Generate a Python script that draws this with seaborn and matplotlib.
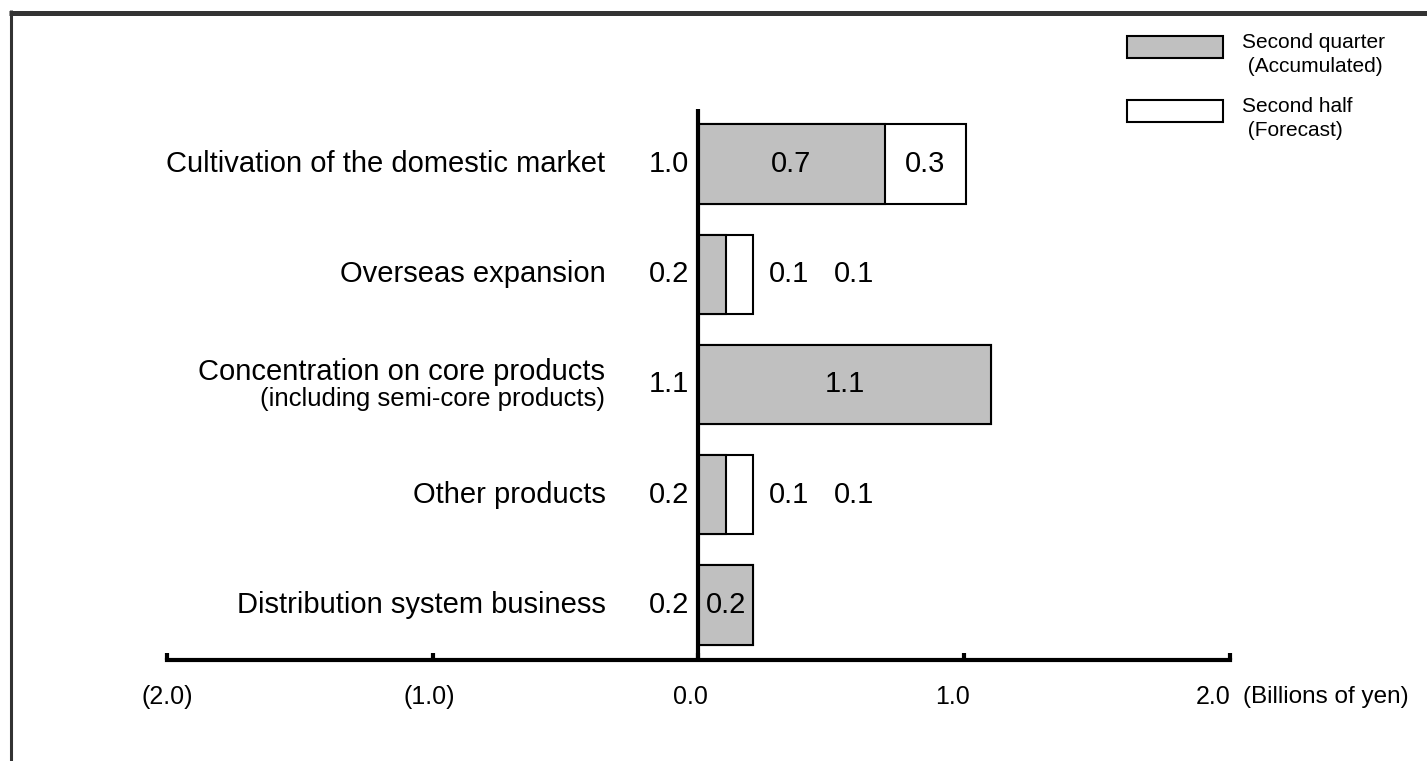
import pandas as pd
import numpy as np
import seaborn as sns
import matplotlib.pyplot as plt
from matplotlib.patches import Patch, Rectangle
from matplotlib.lines import Line2D
from matplotlib.legend_handler import HandlerPatch

# Dados do gráfico (bilhões de ienes)
categories = ["Cultivation of the domestic market", "Overseas expansion",
              "Concentration on core products", "Other products",
              "Distribution system business"]
sub_labels = ["", "", "(including semi-core products)", "", ""]
accumulated = [0.70, 0.105, 1.10, 0.105, 0.205]
forecast = [0.305, 0.10, 0.0, 0.10, 0.0]
total_labels = ["1.0", "0.2", "1.1", "0.2", "0.2"]
acc_labels = ["0.7", "0.1", "1.1", "0.1", "0.2"]
fc_labels = ["0.3", "0.1", "", "0.1", ""]
tick_values = [-2, -1, 0, 1, 2]
tick_labels = ["(2.0)", "(1.0)", "0.0", "1.0", "2.0"]
legend_labels = ["Second quarter\n (Accumulated)", "Second half\n (Forecast)"]

sns.set_style("white")
plt.rcParams["font.family"] = ["Liberation Sans", "DejaVu Sans"]
plt.rcParams["text.color"] = "black"
plt.rcParams["xtick.color"] = "black"
plt.rcParams["axes.edgecolor"] = "black"

df = pd.DataFrame({"category": categories, "accumulated": accumulated, "forecast": forecast})
df["total"] = df["accumulated"] + df["forecast"]

W, H = 1427, 761
fig = plt.figure(figsize=(W / 100, H / 100), dpi=100)
ax = fig.add_axes([34 / W, 1 - 660 / H, 1329 / W, 551 / H])

# Barras empilhadas: total (branco) por baixo, acumulado (cinza) por cima
sns.barplot(data=df, y="category", x="total", orient="h", color="white", saturation=1,
            edgecolor="black", linewidth=1.5, width=0.72, ax=ax)
sns.barplot(data=df, y="category", x="accumulated", orient="h", color="#c0c0c0", saturation=1,
            edgecolor="black", linewidth=1.5, width=0.72, ax=ax)

ax.set_xlim(-2.5, 2.5)
ax.set_ylim(4.5, -0.5)
ax.axvline(0, color="black", lw=3, zorder=5)

for s in ["top", "right", "left"]:
    ax.spines[s].set_visible(False)
ax.spines["bottom"].set_linewidth(3)
ax.spines["bottom"].set_bounds(-2, 2)

# Marcas principais sem rótulo; rótulos ficam em marcas menores levemente deslocadas
ax.set_xticks(tick_values)
ax.set_xticklabels([])
ax.tick_params(axis="x", which="major", bottom=True, direction="in", length=5, width=3)
label_pos = [t * 0.984 - 0.03 for t in tick_values]
ax.set_xticks(label_pos, minor=True)
ax.set_xticklabels(tick_labels, minor=True)
ax.tick_params(axis="x", which="minor", bottom=True, length=0, pad=18, labelsize=18)
ax.set_yticks([])
ax.set_xlabel("")
ax.set_ylabel("")
ax.annotate("(Billions of yen)", xy=(2, 0), xycoords=("data", "axes fraction"),
            xytext=(9, -27), textcoords="offset points", ha="left", va="center", fontsize=17.5)

# Rótulos das categorias e totais
fs = 21
for i, row in df.iterrows():
    if sub_labels[i]:
        ax.text(-0.35, i - 0.11, row["category"], ha="right", va="center", fontsize=fs)
        ax.text(-0.35, i + 0.13, sub_labels[i], ha="right", va="center", fontsize=18.5)
    else:
        ax.text(-0.35, i, row["category"], ha="right", va="center", fontsize=fs)
    ax.text(-0.11, i, total_labels[i], ha="center", va="center", fontsize=fs)

    acc, fc, tot = row["accumulated"], row["forecast"], row["total"]
    if fc > 0 and tot < 0.3:
        # barra estreita: valores fora da barra
        ax.text(tot + 0.135, i, acc_labels[i], ha="center", va="center", fontsize=fs)
        ax.text(tot + 0.38, i, fc_labels[i], ha="center", va="center", fontsize=fs)
    else:
        ax.text(acc / 2, i, acc_labels[i], ha="center", va="center", fontsize=fs, zorder=6)
        if fc > 0:
            ax.text(acc + fc / 2, i, fc_labels[i], ha="center", va="center", fontsize=fs)


# Legenda: caixa alinhada mais para cima que o centro do texto
def raised_patch(legend, orig_handle, xdescent, ydescent, width, height, fontsize):
    return Rectangle((-xdescent, -ydescent + 6), width, height)


handles = [Patch(facecolor="#c0c0c0", edgecolor="black", linewidth=1.5),
           Patch(facecolor="white", edgecolor="black", linewidth=1.5)]
leg = fig.legend(handles, legend_labels, loc="upper left", bbox_to_anchor=(1127 / W, 1 - 33 / H),
                 frameon=False, fontsize=15, handlelength=4.6, handleheight=1.25, handletextpad=0.9,
                 labelspacing=1.0, borderpad=0, borderaxespad=0,
                 handler_map={Patch: HandlerPatch(patch_func=raised_patch)})
for t in leg.get_texts():
    t.set_linespacing(1.35)

# Moldura (linha superior e esquerda)
fig.add_artist(Line2D([9 / W, 1], [1 - 12.5 / H] * 2, transform=fig.transFigure, lw=3.6,
                      color="#333333", solid_capstyle="butt"))
fig.add_artist(Line2D([10.5 / W] * 2, [1 - 10 / H, 0], transform=fig.transFigure, lw=2.2,
                      color="#333333", solid_capstyle="butt"))

fig.savefig("out.png", dpi=100)
